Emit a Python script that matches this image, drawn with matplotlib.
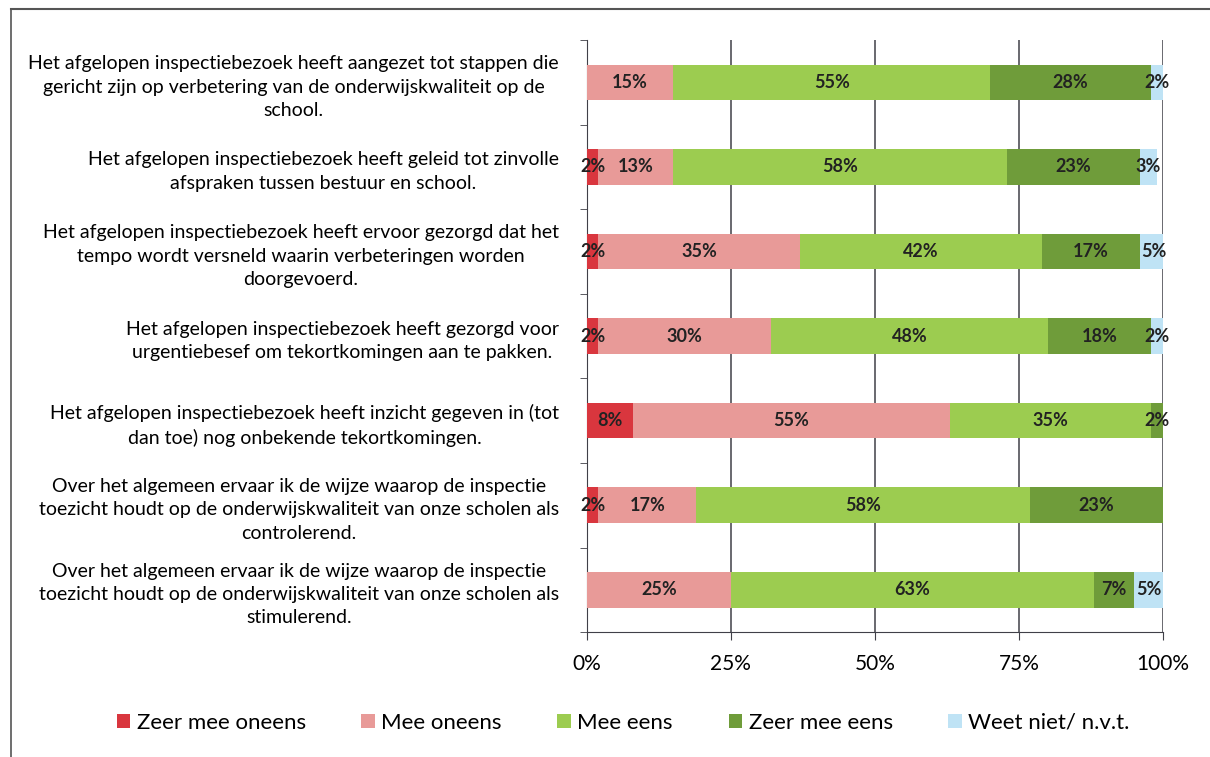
import matplotlib.pyplot as plt
import numpy as np

plt.rcParams['font.family'] = ['Lato', 'DejaVu Sans']

questions = [
    "Het afgelopen inspectiebezoek heeft aangezet tot stappen die\ngericht zijn op verbetering van de onderwijskwaliteit op de\nschool.",
    "Het afgelopen inspectiebezoek heeft geleid tot zinvolle\nafspraken tussen bestuur en school.",
    "Het afgelopen inspectiebezoek heeft ervoor gezorgd dat het\ntempo wordt versneld waarin verbeteringen worden\ndoorgevoerd.",
    "Het afgelopen inspectiebezoek heeft gezorgd voor\nurgentiebesef om tekortkomingen aan te pakken.",
    "Het afgelopen inspectiebezoek heeft inzicht gegeven in (tot\ndan toe) nog onbekende tekortkomingen.",
    "Over het algemeen ervaar ik de wijze waarop de inspectie\ntoezicht houdt op de onderwijskwaliteit van onze scholen als\ncontrolerend.",
    "Over het algemeen ervaar ik de wijze waarop de inspectie\ntoezicht houdt op de onderwijskwaliteit van onze scholen als\nstimulerend.",
]

categories = ["Zeer mee oneens", "Mee oneens", "Mee eens", "Zeer mee eens", "Weet niet/ n.v.t."]
zeer_oneens = [0, 2, 2, 2, 8, 2, 0]
oneens = [15, 13, 35, 30, 55, 17, 25]
eens = [55, 58, 42, 48, 35, 58, 63]
zeer_eens = [28, 23, 17, 18, 2, 23, 7]
weet_niet = [2, 3, 5, 2, 0, 0, 5]

colors = ['#d9363e', '#e89a98', '#9ccc50', '#6f9c3a', '#bfe3f5']
series = [zeer_oneens, oneens, eens, zeer_eens, weet_niet]

fig = plt.figure(figsize=(12.1, 7.57), dpi=100)
ax = fig.add_axes([0.485, 0.165, 0.476, 0.782])

y = np.arange(len(questions))[::-1]
left = np.zeros(len(questions))
for name, vals, c in zip(categories, series, colors):
    vals = np.array(vals, dtype=float)
    bars = ax.barh(y, vals, left=left, height=0.42, color=c, label=name, zorder=3)
    for b, v in zip(bars, vals):
        if v > 0:
            ax.text(b.get_x() + b.get_width() / 2, b.get_y() + b.get_height() / 2,
                    f"{int(v)}%", ha='center', va='center', fontsize=13,
                    fontweight='bold', color='#222222', zorder=4)
    left += vals

ax.set_xlim(0, 100)
ax.set_ylim(-0.5, len(questions) - 0.5)
ax.set_xticks([0, 25, 50, 75, 100])
ax.set_xticklabels(["0%", "25%", "50%", "75%", "100%"], fontsize=15)
ax.xaxis.grid(True, color='#404048', linewidth=1.1, zorder=0)
ax.set_yticks(y)
ax.set_yticklabels(questions, fontsize=14, multialignment='center', linespacing=1.45)
ax.tick_params(axis='y', length=0, pad=20)
ax.set_yticks(np.arange(-0.5, len(questions), 1.0), minor=True)
ax.tick_params(axis='y', which='minor', length=5, color='#404048')
ax.tick_params(axis='x', length=6, color='#404048', pad=10)
for s in ['top', 'right']:
    ax.spines[s].set_visible(False)
ax.spines['left'].set_color('#404048')
ax.spines['bottom'].set_color('#404048')

fig.legend(loc='center', bbox_to_anchor=(0.515, 0.045), ncol=5, frameon=False,
           fontsize=16, handlelength=0.6, handleheight=0.6, handletextpad=0.3,
           columnspacing=2.5)

# scanned figure border
fig.add_artist(plt.Line2D([0.009, 0.009], [0.0, 0.988], color='#555555', lw=1.2))
fig.add_artist(plt.Line2D([0.009, 1.0], [0.988, 0.988], color='#555555', lw=1.5))

fig.savefig('out.png', dpi=100)
